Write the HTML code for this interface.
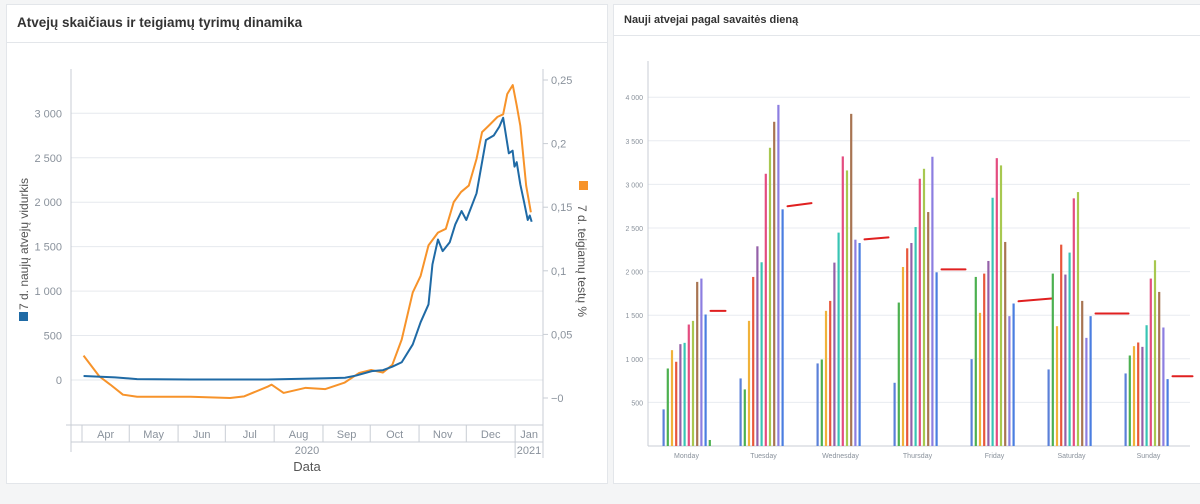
<!DOCTYPE html>
<html><head><meta charset="utf-8"><style>
body{margin:0;width:1200px;height:504px;background:#f4f5f6;font-family:"Liberation Sans",sans-serif;position:relative;overflow:hidden}
.panel{position:absolute;background:#fff;border:1px solid #e3e6ea}
.ttl{position:absolute;font-weight:bold;color:#333}
svg{position:absolute;left:0;top:0}
</style></head><body>
<div class="panel" style="left:6px;top:4px;width:600px;height:478px">
  <div class="ttl" style="left:10px;top:10px;font-size:13.5px">Atvejų skaičiaus ir teigiamų tyrimų dinamika</div>
  <div style="position:absolute;left:0;top:37px;width:600px;height:1px;background:#e3e6ea"></div>
</div>
<div class="panel" style="left:613px;top:4px;width:590px;height:478px">
  <div class="ttl" style="left:10px;top:9px;font-size:11px">Nauji atvejai pagal savaitės dieną</div>
  <div style="position:absolute;left:0;top:30px;width:590px;height:1px;background:#e3e6ea"></div>
</div>
<svg id="s" width="1200" height="504"></svg>
<script>
// ---- Left chart data (day index from Apr 1, 2020) ----
const blueDays=[1,21,35,69,118,155,167,174,184,191,197,203,210,215,220,222.5,226,229,233.5,237,241,244,250.5,256.5,261.4,265,267.4,271,273.4,274.6,276,278.3,280.7,283,284.3,285.5];
const blueVals=[45,30,10,5,5,20,25,50,100,110,150,200,400,650,850,1300,1580,1450,1550,1750,1900,1800,2100,2700,2750,2850,2950,2550,2580,2400,2450,2200,2000,1800,1850,1780];
const orangeDays=[1,11,18,26,35,69,94,103,118,120.4,128,142,154.5,166.6,176,183.6,191,197,203,210,215,220,226,231,236,240.7,245.6,250.5,254,259,263.8,267.4,270,273.5,276,278.3,282,285];
const orangeVals=[0.0333,0.017,0.0105,0.0026,0.001,0.001,0,0.0013,0.009,0.0105,0.004,0.008,0.007,0.012,0.0197,0.022,0.020,0.026,0.046,0.083,0.096,0.12,0.13,0.133,0.154,0.162,0.167,0.188,0.209,0.215,0.221,0.223,0.239,0.246,0.23,0.214,0.167,0.146];
const leftTicks=[0,500,1000,1500,2000,2500,3000];
const leftTickLabels=["0","500","1 000","1 500","2 000","2 500","3 000"];
const rightTicks=[0,0.05,0.1,0.15,0.2,0.25];
const rightTickLabels=["−0","0,05","0,1","0,15","0,2","0,25"];
const months=["Apr","May","Jun","Jul","Aug","Sep","Oct","Nov","Dec","Jan"];
const monthStarts=[0,30,61,91,122,153,183,214,244,275,306];
// ---- Right chart data ----
const days=["Monday","Tuesday","Wednesday","Thursday","Friday","Saturday","Sunday"];
const weekVals=[
[420,889,1099,966,1168,1183,1393,1435,1882,1920,1508,69],
[775,649,1435,1939,2290,2107,3122,3420,3718,3912,2714],
[947,992,1550,1664,2103,2447,3321,3160,3809,2366,2328],
[725,1645,2053,2267,2328,2511,3065,3179,2683,3317,1992],
[996,1939,1527,1977,2122,2847,3301,3218,2340,1489,1634],
[878,1977,1374,2309,1966,2218,2840,2912,1664,1240,1489],
[832,1038,1145,1187,1137,1385,1920,2130,1767,1359,767]];
const markStart=[1550,2750,2370,2025,1660,1520,800];
const markEnd=[1550,2785,2392,2025,1692,1520,800];
const yTicksR=[500,1000,1500,2000,2500,3000,3500,4000];
const yTickLabelsR=["500","1 000","1 500","2 000","2 500","3 000","3 500","4 000"];
const colors=["#5b80d8","#4cb050","#f0b23a","#e8573c","#9460a8","#38c4b4","#e44c80","#a8c850","#a87452","#8c7ee0","#4a7ee0","#4cb050"];

const S=document.getElementById('s');const NS='http://www.w3.org/2000/svg';
function el(t,a,txt){const e=document.createElementNS(NS,t);for(const k in a)e.setAttribute(k,a[k]);if(txt!==undefined)e.textContent=txt;S.appendChild(e);return e;}
const xL=d=>82+d*1.575, yL=v=>380-v*0.0889, yR=v=>398-v*1272;
let e;
leftTicks.forEach((t,i)=>{
 e=el('line',{x1:71,x2:543,y1:yL(t),y2:yL(t),stroke:'#e6e9ee','stroke-width':1});
 
 
 e=el('text',{x:62,y:yL(t)+4,'text-anchor':'end','font-size':11,fill:'#8a929c'},leftTickLabels[i]);
 
 
});
rightTicks.forEach((t,i)=>{
 e=el('line',{x1:543,x2:548,y1:yR(t),y2:yR(t),stroke:'#c8cdd4'});
 
 
 e=el('text',{x:551,y:yR(t)+4,'font-size':11,fill:'#8a929c'},rightTickLabels[i]);
 
 
});
e=el('line',{x1:71,x2:71,y1:69,y2:452,stroke:'#c8cdd4'});
e=el('line',{x1:543,x2:543,y1:69,y2:458,stroke:'#c8cdd4'});
e=el('line',{x1:66,x2:543,y1:425,y2:425,stroke:'#c8cdd4'});
e=el('line',{x1:71,x2:543,y1:442,y2:442,stroke:'#c8cdd4'});
monthStarts.forEach((m,i)=>{
 if(i<monthStarts.length-1){
 e=el('line',{x1:xL(m),x2:xL(m),y1:425,y2:442,stroke:'#c8cdd4'});
 
 
 if(i<months.length){
 const mid=i==9?xL(m)+14:(xL(m)+xL(monthStarts[i+1]))/2;
 e=el('text',{x:mid,y:438,'text-anchor':'middle','font-size':11,fill:'#8a929c'},months[i]);
 
 
 }}
});
e=el('line',{x1:xL(275),x2:xL(275),y1:442,y2:458,stroke:'#c8cdd4'});
e=el('text',{x:307,y:454,'text-anchor':'middle','font-size':11,fill:'#8a929c'},'2020');
e=el('text',{x:529,y:454,'text-anchor':'middle','font-size':11,fill:'#8a929c'},'2021');
e=el('text',{x:307,y:471,'text-anchor':'middle','font-size':13,fill:'#555'},'Data');
e=el('text',{x:0,y:0,transform:'translate(28,244) rotate(-90)','text-anchor':'middle','font-size':12,fill:'#555'},'7 d. naujų atvejų vidurkis');
e=el('rect',{x:19,y:312,width:9,height:9,fill:'#1f6aa5'});
e=el('text',{x:0,y:0,transform:'translate(578,261) rotate(90)','text-anchor':'middle','font-size':12,fill:'#555'},'7 d. teigiamų testų %');
e=el('rect',{x:579,y:181,width:9,height:9,fill:'#f7932a'});
e=el('polyline',{points:orangeDays.map((d,i)=>xL(d)+','+yR(orangeVals[i])).join(' '),fill:'none',stroke:'#f7932a','stroke-width':2,'stroke-linejoin':'round'});

e=el('polyline',{points:blueDays.map((d,i)=>xL(d)+','+yL(blueVals[i])).join(' '),fill:'none',stroke:'#1f6aa5','stroke-width':2,'stroke-linejoin':'round'});


// right chart
const yB=v=>446-v*0.0872, band=77, x0=648;
yTicksR.forEach((t,i)=>{
 e=el('line',{x1:648,x2:1190,y1:yB(t),y2:yB(t),stroke:'#e8ebf0'});
 
 
 e=el('text',{x:643,y:yB(t)+3,'text-anchor':'end','font-size':7,fill:'#8a929c'},yTickLabelsR[i]);
 
 
});
e=el('line',{x1:648,x2:648,y1:61,y2:446,stroke:'#c8cdd4'});
e=el('line',{x1:648,x2:1190,y1:446,y2:446,stroke:'#c8cdd4'});
days.forEach((d,i)=>{
 const c=x0+band*i+band/2;
 e=el('text',{x:c,y:458,'text-anchor':'middle','font-size':7,fill:'#8a929c'},d);
 
 
 weekVals[i].forEach((v,j)=>{
  const bx=c-24+j*4.2;
  const r=el('rect',{x:bx,y:yB(v),width:2.2,height:v*0.0872,fill:colors[j]});
  
  
 });
 const mx=c+24;
 const m=el('line',{x1:mx,x2:mx+(i==6?20:i==4||i==5?33:i==0?15:24),y1:yB(markStart[i]),y2:yB(markEnd[i]),stroke:'#e02020','stroke-width':2,'stroke-linecap':'round'});
 
 
});
</script>
</body></html>
